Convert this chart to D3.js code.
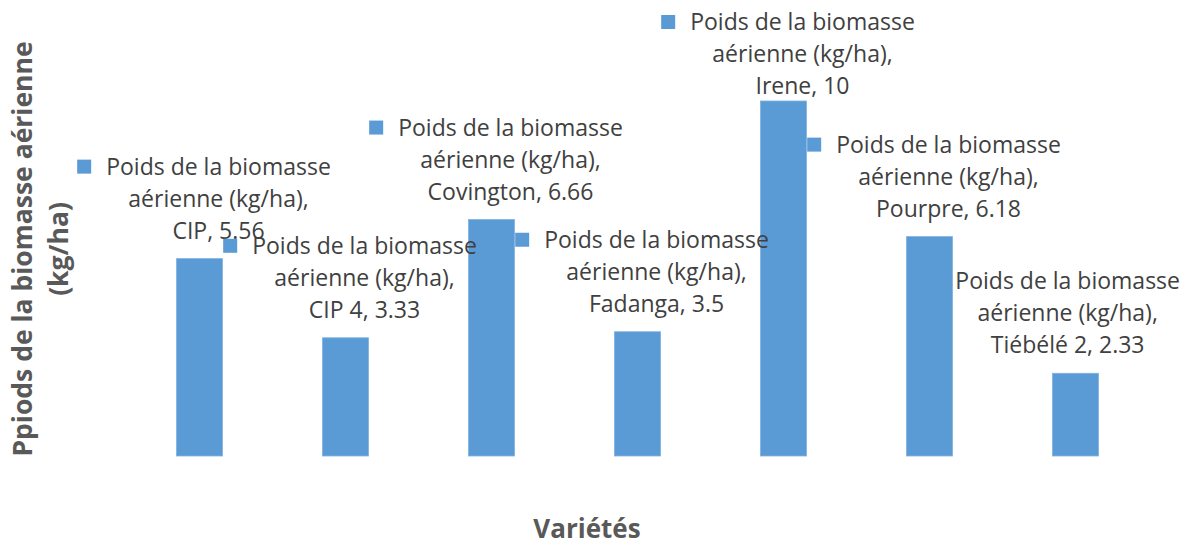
<!DOCTYPE html>
<html>
<head>
<meta charset="utf-8">
<script src="https://cdn.jsdelivr.net/npm/d3@7"></script>
<style>
  body { margin: 0; background: #fff; }
  svg { display: block; }
  .lbl { font-family: "Open Sans", sans-serif; font-size: 23px; fill: #404040; }
  .axis-title { font-family: "Open Sans", sans-serif; font-weight: bold; fill: #595959; }
</style>
</head>
<body>
<svg id="chart" width="1188" height="547"></svg>
<script>
  const varietes = ['CIP', 'CIP 4', 'Covington', 'Fadanga', 'Irene', 'Pourpre', 'Tiébélé 2'];
  const biomasse = [5.56, 3.33, 6.66, 3.5, 10, 6.18, 2.33];
  const serieNom = ['Poids de la biomasse', 'aérienne (kg/ha),'];
  const yTitre = ['Ppiods de la biomasse aérienne', '(kg/ha)'];
  const xTitre = 'Variétés';

  const width = 1188, height = 547;
  const plot = { left: 126.5, right: 1148.5, top: 30, bottom: 456 };
  const color = '#5b9bd5';

  const svg = d3.select('#chart');

  const x = d3.scaleBand()
    .domain(varietes)
    .range([plot.left, plot.right])
    .paddingInner(0.685)
    .paddingOuter(0.3425);

  const y = d3.scaleLinear()
    .domain([0, 12])
    .range([plot.bottom, plot.top]);

  const data = varietes.map((v, i) => ({ name: v, value: biomasse[i] }));

  // bars
  svg.append('g').selectAll('rect').data(data)
    .enter().append('rect')
    .attr('x', d => x(d.name))
    .attr('y', d => y(d.value))
    .attr('width', x.bandwidth())
    .attr('height', d => y(0) - y(d.value))
    .attr('fill', color)
    .attr('stroke', '#7fb1e0')
    .attr('stroke-width', 0.8);

  // data labels (legend key + series name, category, value)
  const lineH = 32;
  const labels = svg.append('g');
  data.forEach(d => {
    const cx = x(d.name) + x.bandwidth() / 2;
    const top = Math.max(y(d.value) - 92, 22);
    const lines = [serieNom[0], serieNom[1], `${d.name}, ${d.value}`];
    const g = labels.append('g');
    const texts = g.selectAll('text').data(lines)
      .enter().append('text')
      .attr('class', 'lbl')
      .attr('text-anchor', 'middle')
      .attr('y', (t, i) => top + i * lineH)
      .attr('dy', '0.35em')
      .text(t => t);
    const w = d3.max(texts.nodes(), n => n.getComputedTextLength());
    let tx = cx + 19;
    let key = true;
    // label pushed back inside the chart area loses its legend key
    if (tx + w / 2 > width - 8) {
      key = false;
      tx = width - 8 - w / 2;
    }
    texts.attr('x', tx);
    if (key) {
      g.append('rect')
        .attr('x', tx - w / 2 - 29)
        .attr('y', top - 7)
        .attr('width', 14)
        .attr('height', 14)
        .attr('fill', color);
    }
  });

  // axis titles
  svg.append('text')
    .attr('class', 'axis-title')
    .attr('x', 587)
    .attr('y', 538)
    .attr('text-anchor', 'middle')
    .style('font-size', '26px')
    .text(xTitre);

  const yt = svg.append('text')
    .attr('class', 'axis-title')
    .attr('transform', 'translate(23,249) rotate(-90)')
    .attr('text-anchor', 'middle')
    .style('font-size', '26.5px');
  yTitre.forEach((t, i) => {
    yt.append('tspan')
      .attr('x', 0)
      .attr('y', i * 36)
      .attr('dy', '0.35em')
      .text(t);
  });
</script>
</body>
</html>
